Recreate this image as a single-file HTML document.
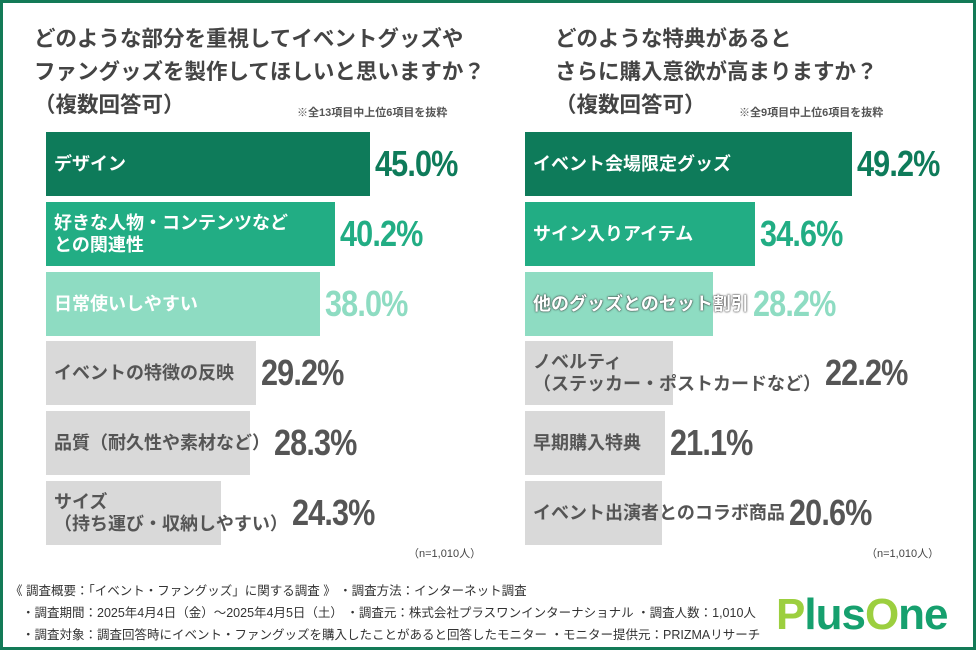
<!DOCTYPE html>
<html><head><meta charset="utf-8">
<style>
*{margin:0;padding:0;box-sizing:border-box}
body{width:976px;height:650px;background:#fff;font-family:"Liberation Sans","Noto Sans CJK JP",sans-serif;overflow:hidden}
#frame{position:absolute;left:0;top:0;width:976px;height:650px;border:3px solid #137a57}
.t{position:absolute;color:#444;font-weight:bold;white-space:nowrap}
.bar{position:absolute;height:64px}
.lab{position:absolute;color:#fff;font-weight:bold;font-size:18px;line-height:22px;display:flex;align-items:center;height:64px;padding-left:8px;white-space:nowrap}
.val{position:absolute;font-weight:bold;font-size:36px;height:64px;line-height:64px;letter-spacing:-1px;transform:scaleX(0.85);transform-origin:left center}
.foot{position:absolute;font-size:12.5px;color:#333;white-space:nowrap}
</style></head><body>
<div id="frame"></div>
<div class="t" style="left:34px;top:23px;font-size:21.5px;line-height:33px">どのような部分を重視してイベントグッズや<br>ファングッズを製作してほしいと思いますか？<br>（複数回答可）</div>
<div class="t" style="left:297px;top:104px;font-size:11px;color:#555">※全13項目中上位6項目を抜粋</div>
<div class="t" style="left:555px;top:23px;font-size:21.5px;line-height:33px">どのような特典があると<br>さらに購入意欲が高まりますか？<br>（複数回答可）</div>
<div class="t" style="left:739px;top:104px;font-size:11px;color:#555">※全9項目中上位6項目を抜粋</div>
<div id="charts"></div>
<div class="t" style="left:408px;top:545px;font-size:11px;color:#444;font-weight:normal">（n=1,010人）</div>
<div class="t" style="left:866px;top:545px;font-size:11px;color:#444;font-weight:normal">（n=1,010人）</div>
<div class="foot" style="left:10px;top:580px">《 調査概要：「イベント・ファングッズ」に関する調査 》 ・調査方法：インターネット調査</div>
<div class="foot" style="left:22px;top:602px">・調査期間：2025年4月4日（金）～2025年4月5日（土） ・調査元：株式会社プラスワンインターナショナル ・調査人数：1,010人</div>
<div class="foot" style="left:22px;top:624px">・調査対象：調査回答時にイベント・ファングッズを購入したことがあると回答したモニター ・モニター提供元：PRIZMAリサーチ</div>
<div style="position:absolute;left:776px;top:590px;font-size:44px;font-weight:bold;color:#16a06e;letter-spacing:-1px;line-height:50px"><span style="color:#9ccf3f">P</span>lus<span style="color:#9ccf3f">O</span>ne</div>
<script>
const leftCats=["デザイン","好きな人物・コンテンツなど<br>との関連性","日常使いしやすい","イベントの特徴の反映","品質（耐久性や素材など）","サイズ<br>（持ち運び・収納しやすい）"];
const leftVals=[45.0,40.2,38.0,29.2,28.3,24.3];
const rightCats=["イベント会場限定グッズ","サイン入りアイテム","他のグッズとのセット割引","ノベルティ<br>（ステッカー・ポストカードなど）","早期購入特典","イベント出演者とのコラボ商品"];
const rightVals=[49.2,34.6,28.2,22.2,21.1,20.6];
const fills=["#0e7b5a","#22ad84","#8edcc2","#d9d9d9","#d9d9d9","#d9d9d9"];
const labColors=["#fff","#fff","#fff","#555","#555","#555"];
const valColors=["#0e7b5a","#22ad84","#8edcc2","#555","#555","#555"];
const root=document.getElementById('charts');
function draw(cats,vals,x0,scale,side){
  cats.forEach((c,i)=>{
    const y=132+i*69.8, w=vals[i]*scale;
    const b=document.createElement('div');b.className='bar';
    
    
    b.style.cssText=`left:${x0}px;top:${y}px;width:${w}px;background:${fills[i]}`;
    root.appendChild(b);
    const l=document.createElement('div');l.className='lab';
    
    
    l.style.cssText=`left:${x0}px;top:${y}px;color:${labColors[i]}`;
    l.innerHTML=c;root.appendChild(l);
    const lw=l.getBoundingClientRect().right;
    if(labColors[i]==='#fff' && lw>x0+w) l.style.textShadow='0 0 2px #333,0 0 1px #333';
    const v=document.createElement('div');v.className='val';
    
    
    let vx=x0+w+5;
    if(lw+4>vx) vx=lw+4;
    v.style.cssText=`left:${vx}px;top:${y}px;color:${valColors[i]}`;
    v.textContent=vals[i].toFixed(1)+'%';root.appendChild(v);
  });
}
draw(leftCats,leftVals,46,7.2,'left');
draw(rightCats,rightVals,525,6.65,'right');
</script>
</body></html>
